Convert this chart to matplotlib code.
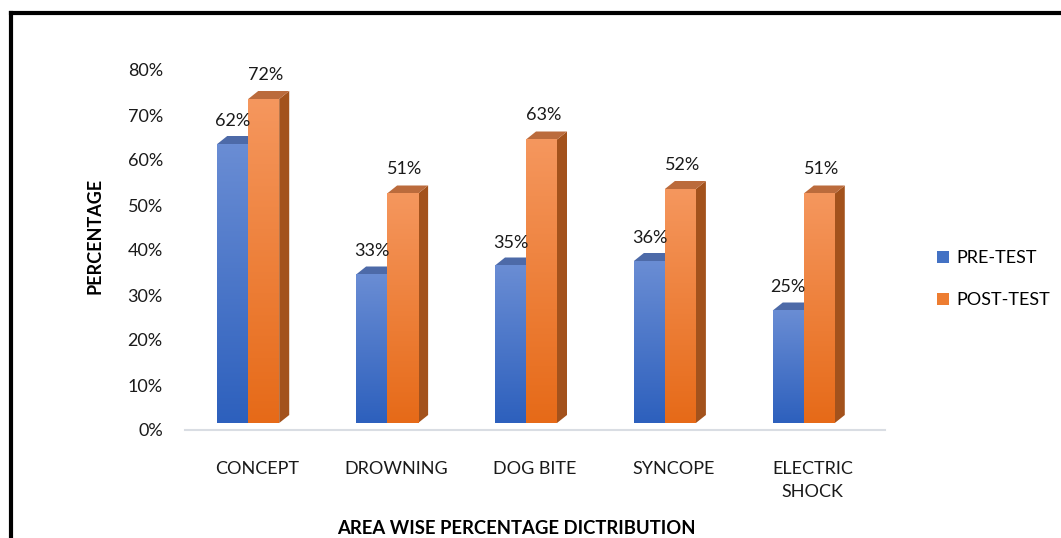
import numpy as np
import matplotlib
matplotlib.use("Agg")
import matplotlib.pyplot as plt
from matplotlib.patches import Polygon, Rectangle
from matplotlib.lines import Line2D
from matplotlib.colors import LinearSegmentedColormap

categories = ["CONCEPT", "DROWNING", "DOG BITE", "SYNCOPE", "ELECTRIC\nSHOCK"]
pre_test = [0.62, 0.33, 0.35, 0.36, 0.25]
post_test = [0.72, 0.51, 0.63, 0.52, 0.51]
series_names = ["PRE-TEST", "POST-TEST"]
yticks = [0.0, 0.1, 0.2, 0.3, 0.4, 0.5, 0.6, 0.7, 0.8]
ytick_labels = ["0%", "10%", "20%", "30%", "40%", "50%", "60%", "70%", "80%"]

plt.rcParams['font.family'] = ['Lato', 'DejaVu Sans']

W, H = 1061, 538
fig = plt.figure(figsize=(W / 100, H / 100), dpi=100)
ax = fig.add_axes([185 / W, 1 - 430 / H, 700 / W, 360 / H])
ax.set_xlim(-0.52, 4.52)
ax.set_ylim(0, 0.8)

px_x = 5.04 / 700.0     # data units per pixel (x)
px_y = 0.8 / 360.0      # data units per pixel (y)
floor_dy = 7 * px_y     # bars set back from the floor front edge
dep_x = 10 * px_x
dep_y = 8 * px_y
bw = 31 * px_x

blue_grad = LinearSegmentedColormap.from_list("b", ["#2d60bd", "#6a8dd4"])
orng_grad = LinearSegmentedColormap.from_list("o", ["#e66a18", "#f5975e"])
grad = np.linspace(0, 1, 256).reshape(-1, 1)

def bar3d(x0, val, cmap, top_col, side_col, z):
    y0 = floor_dy
    y1 = floor_dy + val
    side = Polygon([(x0 + bw, y0), (x0 + bw + dep_x, y0 + dep_y),
                    (x0 + bw + dep_x, y1 + dep_y), (x0 + bw, y1)],
                   closed=True, facecolor=side_col, edgecolor='none', zorder=z)
    ax.add_patch(side)
    top = Polygon([(x0, y1), (x0 + dep_x, y1 + dep_y),
                   (x0 + bw + dep_x, y1 + dep_y), (x0 + bw, y1)],
                  closed=True, facecolor=top_col, edgecolor='none', zorder=z)
    ax.add_patch(top)
    ax.imshow(grad, cmap=cmap, origin='lower', aspect='auto',
              extent=(x0, x0 + bw, y0, y1), zorder=z + 0.1, interpolation='bilinear')

xs = np.arange(len(categories))
off_pre = -40 * px_x
off_post = off_pre + bw
for i, x in enumerate(xs):
    bar3d(x + off_pre, pre_test[i], blue_grad, "#4d6aa8", "#2a4f94", 2)
    bar3d(x + off_post, post_test[i], orng_grad, "#bb6b3c", "#a3521c", 3)
    ax.text(x + off_pre + bw / 2, floor_dy + pre_test[i] + 23 * px_y,
            f"{round(pre_test[i] * 100)}%", ha='center', va='center',
            fontsize=13, color='#1a1a1a', zorder=5)
    ax.text(x + off_post + bw / 2 + 2 * px_x, floor_dy + post_test[i] + 24 * px_y,
            f"{round(post_test[i] * 100)}%", ha='center', va='center',
            fontsize=13, color='#1a1a1a', zorder=5)

ax.set_xlim(-0.52, 4.52)
ax.set_ylim(0, 0.8)

for s in ['top', 'right', 'left']:
    ax.spines[s].set_visible(False)
ax.spines['bottom'].set_color('#d9dde3')
ax.spines['bottom'].set_linewidth(1.5)

ax.set_yticks(yticks)
ax.set_yticklabels(ytick_labels, fontsize=13, color='#1a1a1a')
ax.set_xticks(xs)
ax.set_xticklabels(categories, fontsize=13, color='#1a1a1a', linespacing=1.55)
ax.tick_params(axis='y', length=0, pad=16)
ax.tick_params(axis='x', length=0, pad=22)

fig.text(95 / W, 1 - 236 / H, "PERCENTAGE", rotation=90,
         ha='center', va='center', fontsize=13, fontweight='bold')
fig.text(516 / W, 1 - 528 / H, "AREA WISE PERCENTAGE DICTRIBUTION",
         ha='center', va='center', fontsize=13.3, fontweight='bold')

handles = [Rectangle((0, 0), 1, 1, facecolor="#4472c4"),
           Rectangle((0, 0), 1, 1, facecolor="#ed7d31")]
fig.legend(handles, series_names, loc='center left',
           bbox_to_anchor=(921 / W, 1 - 279 / H), frameon=False,
           fontsize=13, handlelength=0.65, handleheight=0.65,
           handletextpad=0.4, labelspacing=1.45)

fig.add_artist(Line2D([11 / W, 11 / W], [0, 1 - 13 / H], color='black',
                      lw=3, transform=fig.transFigure))
fig.add_artist(Line2D([11 / W, 1], [1 - 13 / H, 1 - 13 / H], color='black',
                      lw=3, transform=fig.transFigure))

fig.savefig("out.png", dpi=100)
